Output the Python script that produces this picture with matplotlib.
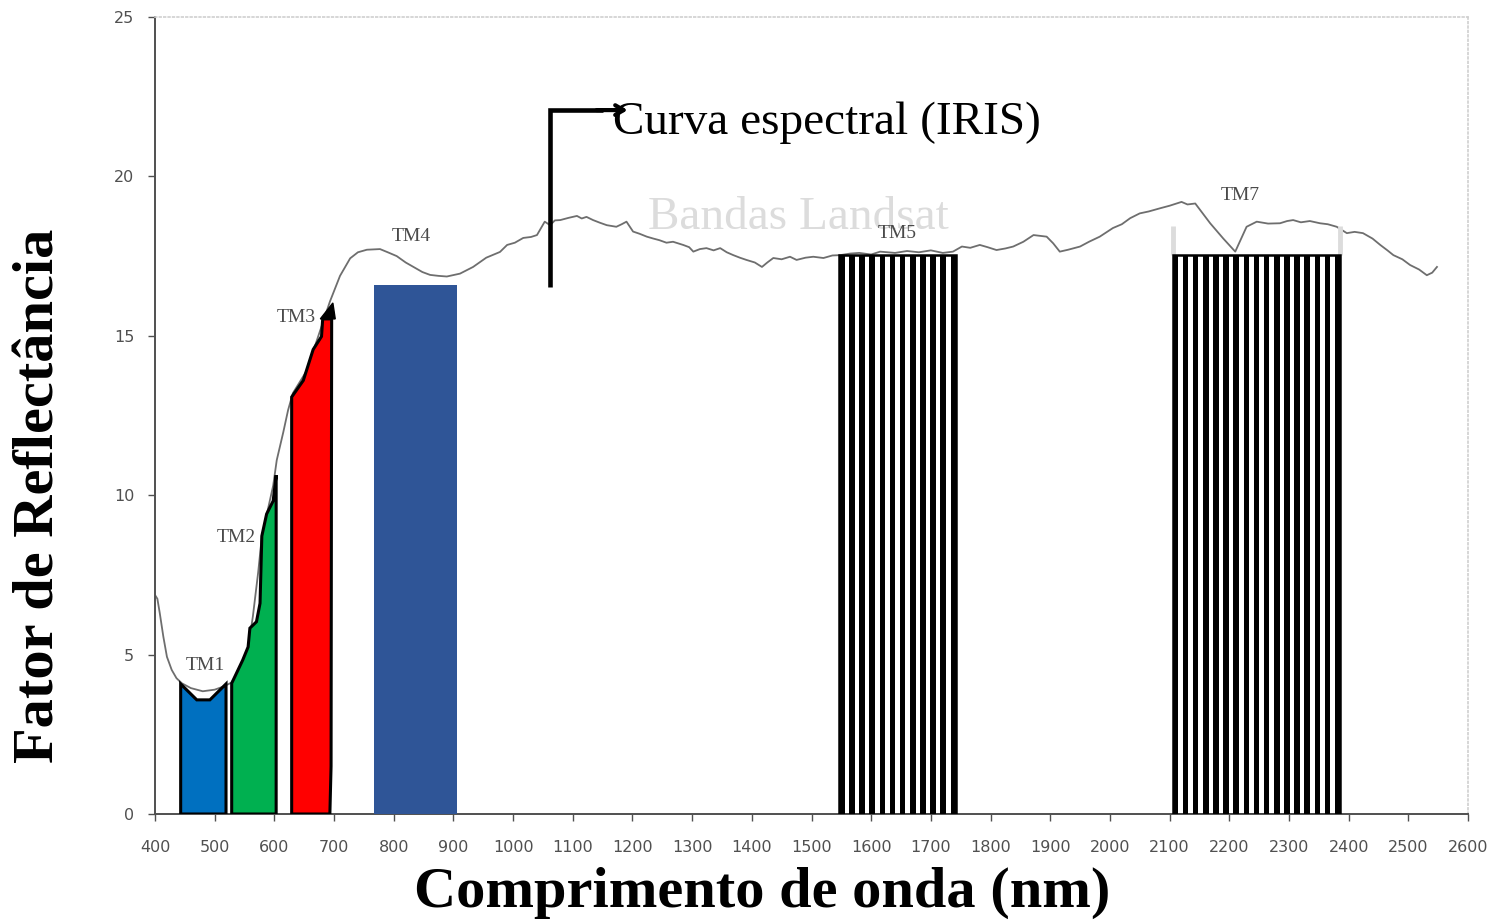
import numpy as np
import matplotlib
matplotlib.use('Agg')
import matplotlib.pyplot as plt
from matplotlib import font_manager
from matplotlib.patches import Rectangle, Polygon

# ---------------- data ----------------
wavelength = [400, 404, 408, 414, 420, 428, 436, 445, 460, 480, 500, 515, 528, 542, 556,
              564, 573, 579, 589, 598, 604, 615, 623, 631, 654, 676, 693, 710, 727, 740,
              755, 777, 790, 805, 820, 833, 848, 861, 875, 889, 911, 933, 955, 978, 990,
              1003, 1017, 1030, 1040, 1053, 1062, 1070, 1079, 1093, 1107, 1115, 1123, 1134,
              1145, 1157, 1173, 1182, 1190, 1201, 1212, 1224, 1235, 1245, 1257, 1268, 1285,
              1295, 1302, 1313, 1324, 1336, 1347, 1358, 1369, 1380, 1391, 1405, 1417, 1426,
              1436, 1450, 1464, 1475, 1490, 1503, 1520, 1535, 1548, 1565, 1580, 1600, 1615,
              1640, 1660, 1680, 1700, 1720, 1737, 1752, 1766, 1782, 1795, 1810, 1825, 1838,
              1855, 1872, 1894, 1905, 1916, 1930, 1950, 1965, 1983, 2005, 2020, 2034, 2050,
              2065, 2084, 2100, 2120, 2130, 2143, 2155, 2168, 2190, 2210, 2229, 2246, 2265,
              2285, 2297, 2307, 2320, 2335, 2352, 2365, 2380, 2397, 2410, 2424, 2440, 2453,
              2465, 2475, 2490, 2503, 2518, 2531, 2540, 2548]
reflectance = [6.87, 6.75, 6.30, 5.56, 4.93, 4.52, 4.26, 4.10, 3.95, 3.85, 3.90, 4.00, 4.12, 4.52, 5.19,
               6.20, 7.60, 8.70, 9.55, 10.30, 11.10, 11.98, 12.67, 13.20, 13.90, 15.12, 16.07, 16.88, 17.43, 17.62,
               17.70, 17.72, 17.62, 17.50, 17.30, 17.16, 17.00, 16.91, 16.88, 16.86, 16.95, 17.16, 17.45, 17.63, 17.85,
               17.92, 18.07, 18.10, 18.16, 18.58, 18.47, 18.62, 18.63, 18.70, 18.76, 18.68, 18.73, 18.63,
               18.55, 18.47, 18.42, 18.50, 18.58, 18.27, 18.20, 18.11, 18.05, 18.00, 17.92, 17.95, 17.85,
               17.78, 17.64, 17.72, 17.75, 17.68, 17.75, 17.62, 17.53, 17.45, 17.38, 17.30, 17.16, 17.30,
               17.44, 17.40, 17.48, 17.38, 17.45, 17.48, 17.44, 17.52, 17.53, 17.58, 17.60, 17.55, 17.64,
               17.60, 17.66, 17.62, 17.68, 17.60, 17.64, 17.80, 17.76, 17.85, 17.78, 17.69, 17.74, 17.80,
               17.95, 18.16, 18.11, 17.90, 17.64, 17.70, 17.80, 17.95, 18.11, 18.38, 18.50, 18.69, 18.84,
               18.90, 19.00, 19.08, 19.20, 19.12, 19.15, 18.85, 18.53, 18.05, 17.64, 18.42, 18.58, 18.52,
               18.53, 18.60, 18.63, 18.56, 18.60, 18.53, 18.50, 18.42, 18.22, 18.26, 18.22, 18.05, 17.85,
               17.68, 17.53, 17.40, 17.22, 17.08, 16.90, 16.98, 17.16]

# coloured band polygons (wavelength, reflectance)
tm1_x = [443, 443, 470, 492, 519, 519]
tm1_y = [0, 4.08, 3.58, 3.58, 4.08, 0]
tm2_x = [528.5, 528.5, 547, 556, 559, 570, 576, 579, 587, 598, 603, 603]
tm2_y = [0, 4.10, 4.83, 5.24, 5.83, 6.03, 6.61, 8.72, 9.41, 9.82, 10.63, 0]
tm3_x = [629, 629, 648.5, 665, 679, 681, 696, 695, 693]
tm3_y = [0, 13.08, 13.60, 14.57, 14.98, 15.53, 15.53, 1.5, 0]
tm4_range = (767, 906)
tm4_top = 16.59
tm5_range = (1546, 1742)
tm7_range = (2105, 2385)
hatched_top = 17.53
tm7_frame_top = 18.45

band_labels = ['TM1', 'TM2', 'TM3', 'TM4', 'TM5', 'TM7']
band_label_x = [484, 536, 636, 830, 1643, 2218]
band_label_y = [4.67, 8.66, 15.56, 18.13, 18.22, 19.39]

stripe_period = 17.0

x_ticks = list(range(400, 2601, 100))
y_ticks = [0, 5, 10, 15, 20, 25]

# ---------------- fonts ----------------
names = {f.name for f in font_manager.fontManager.ttflist}
if 'Liberation Sans Narrow' in names:
    tick_font, tick_size = 'Liberation Sans Narrow', 14
else:
    tick_font, tick_size = 'DejaVu Sans', 11.5
serif = 'Liberation Serif'

# ---------------- figure ----------------
W, H = 1493, 922
fig = plt.figure(figsize=(W / 100, H / 100), dpi=100)
ax = fig.add_axes([155 / W, 1 - 814 / H, 1313 / W, 797 / H])
ax.set_xlim(400, 2600)
ax.set_ylim(0, 25)

# watermark-like text behind the curve
ax.text(1226, 18.35, 'Bandas Landsat', family=serif, fontsize=34, color='#dcdcdc',
        ha='left', va='baseline', zorder=1)

# curve
ax.plot(wavelength, reflectance, color='#6e6e6e', lw=1.3, zorder=2)

# coloured bands
ax.add_patch(Polygon(list(zip(tm1_x, tm1_y)), closed=True, facecolor='#0070C0',
                     edgecolor='black', lw=2.2, zorder=3))
ax.add_patch(Polygon(list(zip(tm2_x, tm2_y)), closed=True, facecolor='#00B050',
                     edgecolor='black', lw=2.2, zorder=3))
ax.add_patch(Polygon(list(zip(tm3_x, tm3_y)), closed=True, facecolor='#FF0000',
                     edgecolor='black', lw=2.2, zorder=3))
ax.add_patch(Polygon([(tm3_x[5] - 4, tm3_y[5]), (tm3_x[6] + 6, tm3_y[6]),
                      (tm3_x[6] + 2, tm3_y[6] + 0.5)], closed=True,
                     facecolor='black', edgecolor='black', lw=1, zorder=4))
ax.bar(tm4_range[0], tm4_top, width=tm4_range[1] - tm4_range[0], align='edge',
       color='#2F5597', edgecolor='none', zorder=3)

# TM7 light frame
ax.vlines(list(tm7_range), hatched_top, tm7_frame_top, color='#dcdcdc', lw=3.5, zorder=2.5)

# striped bands
for (x0, x1) in (tm5_range, tm7_range):
    ax.bar(x0, hatched_top, width=x1 - x0, align='edge', color='white',
           edgecolor='none', zorder=3)
    starts = np.arange(x0, x1, stripe_period)
    widths = np.minimum(stripe_period * 0.55, x1 - starts)
    ax.bar(starts, hatched_top, width=widths, align='edge', color='black',
           edgecolor='none', zorder=3.2)
    ax.add_patch(Rectangle((x0, 0), x1 - x0, hatched_top, fill=False,
                           edgecolor='black', lw=1.8, zorder=3.4))

# band labels
for lab, bx, by in zip(band_labels, band_label_x, band_label_y):
    ax.text(bx, by, lab, family=serif, fontsize=14, color='#4a4a4a',
            ha='center', va='center', zorder=5)

# annotation bracket + arrow
ax.plot([1062, 1062, 1150], [16.53, 22.08, 22.08], color='black', lw=3.3,
        solid_joinstyle='miter', solid_capstyle='butt', zorder=6)
ax.annotate('', xy=(1192, 22.08), xytext=(1140, 22.08),
            arrowprops=dict(arrowstyle='->,head_length=0.6,head_width=0.35',
                            lw=3.0, color='black', shrinkA=0, shrinkB=0), zorder=6)
ax.text(1167, 21.33, 'Curva espectral (IRIS)', family=serif, fontsize=34,
        color='black', ha='left', va='baseline', zorder=7)

# axes styling
for side in ('top', 'right'):
    ax.spines[side].set_color('#cfcfcf')
    ax.spines[side].set_linewidth(1.2)
    ax.spines[side].set_linestyle(':')
for side in ('left', 'bottom'):
    ax.spines[side].set_color('#505050')
    ax.spines[side].set_linewidth(1.4)
ax.set_xticks(x_ticks)
ax.set_yticks(y_ticks)
ax.set_xticklabels([str(v) for v in x_ticks], family=tick_font, fontsize=tick_size, color='#505050')
ax.set_yticklabels([str(v) for v in y_ticks], family=tick_font, fontsize=tick_size, color='#505050')
ax.tick_params(axis='x', direction='out', length=5, width=1, color='#505050', pad=14)
ax.tick_params(axis='y', direction='out', length=5, width=1, color='#505050', pad=10)

fig.text(40 / W, 1 - 496 / H, 'Fator de Reflectância', family=serif, fontweight='bold',
         fontsize=42, rotation=90, ha='center', va='center')
fig.text(762 / W, 1 - 893 / H, 'Comprimento de onda (nm)', family=serif, fontweight='bold',
         fontsize=42, ha='center', va='center')

fig.savefig('out.png', dpi=100, facecolor='white')
